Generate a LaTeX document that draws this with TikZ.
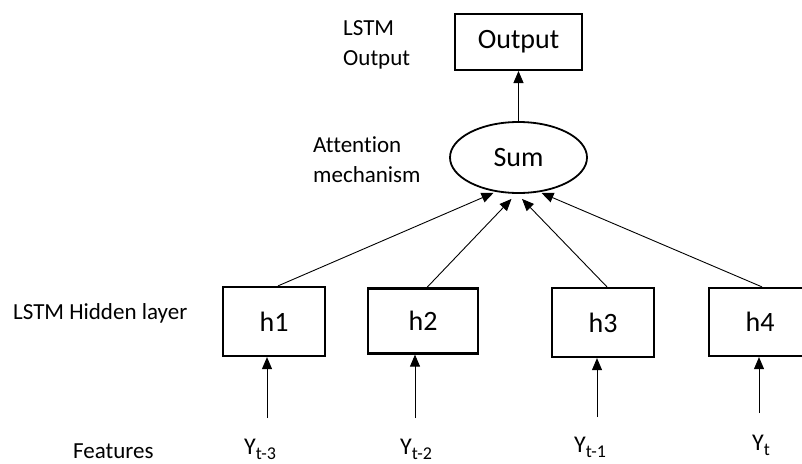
\documentclass[tikz,border=0pt]{standalone}
\usepackage{fontspec}
\setmainfont{Carlito}[Ligatures=NoCommon]
\usetikzlibrary{arrows.meta,shapes.geometric}
% Y with a lowered subscript, as in Y_{t-3}
\newcommand\ysub[1]{{\fontsize{24}{26}\selectfont Y}\raisebox{-5pt}{\fontsize{18}{18}\selectfont #1}}
\begin{document}
\begin{tikzpicture}[x=1pt,y=-1pt,
  lbl/.style={font=\fontsize{23}{30}\selectfont, inner sep=0pt, align=left, anchor=base west},
  unit/.style={draw, line width=2.2pt, font=\fontsize{28}{32}\selectfont, inner sep=0pt},
  link/.style={line width=0.9pt, -{Triangle[length=12pt,width=10pt]}}]
\useasboundingbox (0,0) rectangle (802,463);
\clip (0,0) rectangle (802,463);

% output and attention stage
\node[unit, line width=2pt, minimum width=127, minimum height=56] (out) at (518.5,42) {Output};
\node[unit, ellipse, line width=1.8pt, minimum width=137, minimum height=71] (sum) at (518.5,157.5) {Sum};

% hidden units
\node[unit, minimum width=102.5, minimum height=69] (h1) at (274,321.5) {h1};
\node[unit, minimum width=110, minimum height=65] (h2) at (423,321) {h2};
\node[unit, minimum width=102, minimum height=69] (h3) at (603,322.5) {h3};
\node[unit, minimum width=102, minimum height=68] (h4) at (760,322) {h4};

% side labels (anchored on the baseline of their last line)
\node[lbl] (lout) at (343,65) {LSTM\\Output};
\node[lbl] (latt) at (313,182) {Attention\\mechanism};
\node[lbl] (lhid) at (13,319) {LSTM Hidden layer};
\node[lbl] (lfeat) at (73,458) {Features};

% inputs
\node[lbl] (y1) at (244,454.5) {\ysub{t-3}};
\node[lbl] (y2) at (400,454) {\ysub{t-2}};
\node[lbl] (y3) at (574,452.5) {\ysub{t-1}};
\node[lbl] (y4) at (752,450) {\ysub{t}};

\coordinate (f1) at (267,418);
\coordinate (f2) at (415,418);
\coordinate (f3) at (597,417);
\coordinate (f4) at (759,413);

% connectors
\draw[link] (sum.north) -- (out.south);
\draw[link] ([xshift=4pt]h1.north) -- ([xshift=-25pt,yshift=1pt]sum.south);
\draw[link] ([xshift=4pt]h2.north) -- ([xshift=-7pt,yshift=-5pt]sum.south);
\draw[link] ([xshift=4pt]h3.north) -- ([xshift=3.5pt,yshift=-5pt]sum.south);
\draw[link] ([xshift=2pt]h4.north) -- ([xshift=23pt,yshift=1pt]sum.south);

\draw[link] (f1) -- (f1 |- h1.south);
\draw[link] (f2) -- (f2 |- h2.south);
\draw[link] (f3) -- (f3 |- h3.south);
\draw[link] (f4) -- (f4 |- h4.south);
\end{tikzpicture}
\end{document}
